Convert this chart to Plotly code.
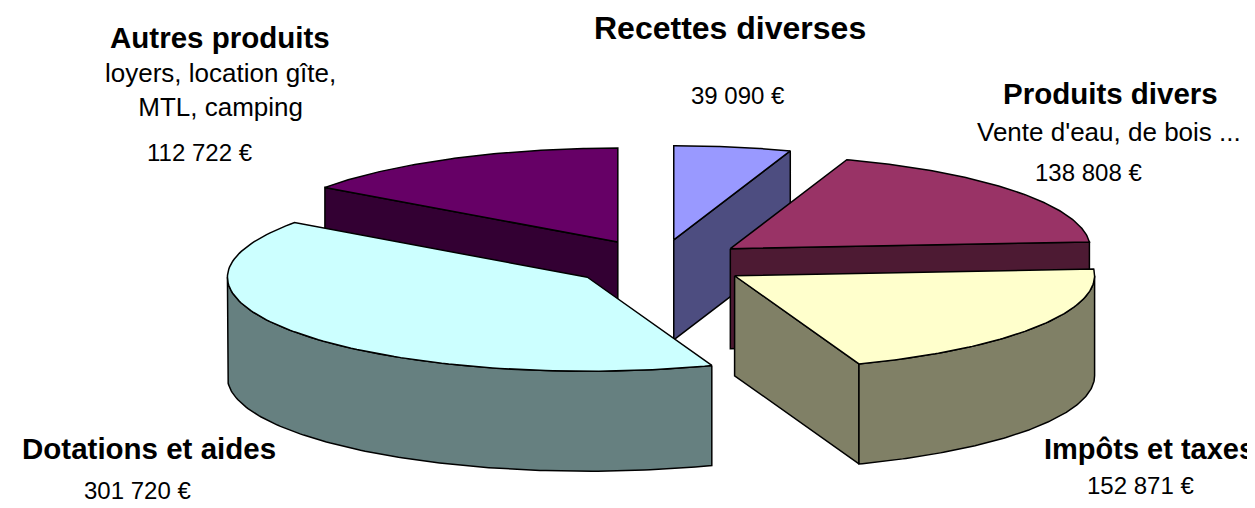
import numpy as np
import plotly.graph_objects as go

# ---- data ----
categories = ["Recettes diverses", "Produits divers", "Impôts et taxes",
              "Dotations et aides", "Autres produits"]
values = [39090, 138808, 152871, 301720, 112722]
descriptions = ["", "Vente d'eau, de bois ...", "", "", "loyers, location gîte,<br>MTL, camping"]
top_colors = ["#9999FF", "#993366", "#FFFFCC", "#CCFFFF", "#660066"]
side_colors = ["#4D4D80", "#4D1A33", "#808066", "#668080", "#330033"]

# ---- geometry of the pseudo-3D pie (pixel-like axes) ----
W, H_FIG = 1255, 508
CX, CY = 651, 255
RX, RY = 360, 94
DEPTH = 100
EXPLODE = 0.25

def pt(cx, cy, th_deg, dy=0.0):
    t = np.radians(th_deg)
    return cx + RX * np.sin(t), cy - RY * np.cos(t) + dy

def arc(cx, cy, a0, a1, dy=0.0, n=120):
    th = np.linspace(a0, a1, n)
    xs, ys = pt(cx, cy, th, dy)
    return list(xs), list(ys)

total = float(sum(values))
angles = np.concatenate([[0], np.cumsum(values) / total * 360.0])

slices = []
for i, v in enumerate(values):
    a0, a1 = angles[i], angles[i + 1]
    m = (a0 + a1) / 2
    cx = CX + EXPLODE * RX * np.sin(np.radians(m))
    cy = CY - EXPLODE * RY * np.cos(np.radians(m))
    slices.append(dict(i=i, a0=a0, a1=a1, cx=cx, cy=cy))

fig = go.Figure()
LINE = dict(color="black", width=1.5)

def poly(xs, ys, color):
    fig.add_trace(go.Scatter(x=xs + [xs[0]], y=ys + [ys[0]], mode="lines",
                             fill="toself", fillcolor=color, line=LINE,
                             hoverinfo="skip", showlegend=False))

for s in sorted(slices, key=lambda d: d["cy"]):
    i, a0, a1, cx, cy = s["i"], s["a0"], s["a1"], s["cx"], s["cy"]
    side = side_colors[i]
    # start radial wall
    if np.sin(np.radians(a0)) < -1e-6:
        px, py = pt(cx, cy, a0)
        poly([cx, px, px, cx], [cy, py, py + DEPTH, cy + DEPTH], side)
    # end radial wall
    if np.sin(np.radians(a1)) > 1e-6:
        px, py = pt(cx, cy, a1)
        poly([cx, px, px, cx], [cy, py, py + DEPTH, cy + DEPTH], side)
    # outer curved wall (front half only)
    lo, hi = max(a0, 90.0), min(a1, 270.0)
    if hi > lo:
        xt, yt = arc(cx, cy, lo, hi)
        xb, yb = arc(cx, cy, hi, lo, DEPTH)
        poly(xt + xb, yt + yb, side)
    # top face
    xa, ya = arc(cx, cy, a0, a1)
    poly([cx] + xa, [cy] + ya, top_colors[i])

# ---- labels ----
FONT = "Liberation Sans, Arial, sans-serif"
def fmt(v):
    return f"{v:,}".replace(",", " ") + " €"

label_pos = {  # (x, y, xanchor, size) for name; description; value
    0: [(722, 20, "center", 32), None, (730, 87)],
    1: [(1102, 85, "center", 29.5), (1101, 124), (1080, 164)],
    2: [(1249, 441, "right", 29), None, (1132, 477)],
    3: [(141, 440, "center", 29.5), None, (129, 482)],
    4: [(212, 29, "center", 29.5), (212, 82), (192, 144)],
}
for i, name in enumerate(categories):
    npos, dpos, vpos = label_pos[i]
    fig.add_annotation(x=npos[0], y=npos[1], text=f"<b>{name}</b>", showarrow=False,
                       font=dict(family=FONT, size=npos[3], color="black"),
                       xanchor=npos[2], yanchor="middle")
    if dpos is not None and descriptions[i]:
        fig.add_annotation(x=dpos[0], y=dpos[1], text=descriptions[i], showarrow=False,
                           font=dict(family=FONT, size=26, color="black"),
                           xanchor="center", yanchor="middle", align="center")
    fig.add_annotation(x=vpos[0], y=vpos[1], text=fmt(values[i]), showarrow=False,
                       font=dict(family=FONT, size=24, color="black"),
                       xanchor="center", yanchor="middle")

fig.update_layout(
    width=W, height=H_FIG,
    margin=dict(l=0, r=0, t=0, b=0),
    paper_bgcolor="white", plot_bgcolor="white",
    xaxis=dict(range=[0, W], visible=False, fixedrange=True),
    yaxis=dict(range=[H_FIG, 0], visible=False, fixedrange=True),
    showlegend=False,
)
fig.write_html("out.html")
